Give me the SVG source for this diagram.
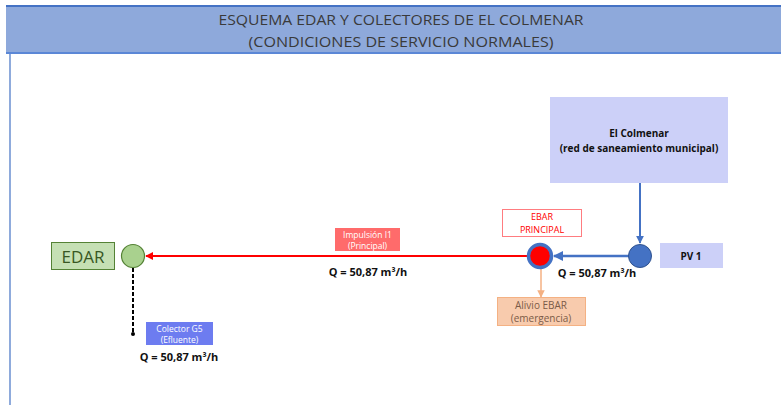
<svg xmlns="http://www.w3.org/2000/svg" width="781" height="405" viewBox="0 0 781 405">
<defs>
<style>
text{font-family:"Open Sans","Liberation Sans",sans-serif;}
.title{font-size:15px;fill:#3A3A3A;text-anchor:middle;}
.b{font-weight:bold;fill:#111111;text-anchor:middle;}
.q{font-size:11px;font-weight:bold;fill:#111111;text-anchor:middle;}
.sm{font-size:8.5px;fill:#ffffff;text-anchor:middle;}
</style>
<marker id="ab" viewBox="0 0 10 10" refX="9" refY="5" markerWidth="4" markerHeight="4" orient="auto"><path d="M0,0 L10,5 L0,10 Z" fill="#4472C4"/></marker>
<marker id="ar" viewBox="0 0 10 10" refX="9" refY="5" markerWidth="4" markerHeight="4" orient="auto"><path d="M0,0 L10,5 L0,10 Z" fill="#FF0000"/></marker>
<marker id="ao" viewBox="0 0 10 10" refX="9" refY="5" markerWidth="5" markerHeight="5" orient="auto"><path d="M0,0 L10,5 L0,10 Z" fill="#F4B183"/></marker>
</defs>
<rect x="0" y="0" width="781" height="405" fill="#ffffff"/>
<g id="header">
<rect x="6" y="5" width="775" height="49" fill="#8EA9DB"/>
<line x1="6" y1="6" x2="781" y2="6" stroke="#4472C4" stroke-width="2"/>
<line x1="6" y1="53" x2="781" y2="53" stroke="#5B87D6" stroke-width="2"/>
<line x1="10" y1="54" x2="10" y2="405" stroke="#4472C4" stroke-width="1.2"/>
<text class="title" x="401" y="25" textLength="365" lengthAdjust="spacingAndGlyphs">ESQUEMA EDAR Y COLECTORES DE EL COLMENAR</text>
<text class="title" x="401" y="47" textLength="305" lengthAdjust="spacingAndGlyphs">(CONDICIONES DE SERVICIO NORMALES)</text>
</g>
<g id="connectors">
<line x1="640" y1="183" x2="640" y2="243" stroke="#4472C4" stroke-width="2" marker-end="url(#ab)"/>
<line x1="629" y1="256" x2="554" y2="256" stroke="#4472C4" stroke-width="2.5" marker-end="url(#ab)"/>
<line x1="527" y1="256" x2="146" y2="256" stroke="#FF0000" stroke-width="2" marker-end="url(#ar)"/>
<line x1="541" y1="269" x2="541" y2="297" stroke="#F4B183" stroke-width="1.5" marker-end="url(#ao)"/>
<line x1="133" y1="268" x2="133" y2="333" stroke="#000000" stroke-width="2" stroke-dasharray="4,2"/>
<circle cx="133" cy="334" r="2" fill="#000000"/>
</g>
<g id="colmenar">
<rect x="550" y="97" width="178" height="86" fill="#CCD0F8"/>
<text class="b" x="639" y="137" font-size="10">El Colmenar</text>
<text class="b" x="639" y="152" font-size="10">(red de saneamiento municipal)</text>
</g>
<g id="pv1">
<circle cx="640" cy="256" r="11.5" fill="#4472C4" stroke="#2F528F" stroke-width="1"/>
<rect x="660" y="243" width="63" height="25" fill="#CCD0F8"/>
<text class="b" x="691" y="259.5" font-size="10">PV 1</text>
</g>
<g id="ebar">
<circle cx="540" cy="256" r="11.5" fill="#FF0000" stroke="#4472C4" stroke-width="3.5"/>
<rect x="502.5" y="209.5" width="79" height="27" fill="#ffffff" stroke="#FF7C80" stroke-width="1"/>
<text x="542" y="220" font-size="9" fill="#FF0000" text-anchor="middle">EBAR</text>
<text x="542" y="233" font-size="9" fill="#FF0000" text-anchor="middle">PRINCIPAL</text>
<text class="q" x="597" y="277">Q = 50,87 m³/h</text>
</g>
<g id="alivio">
<rect x="497.5" y="297.5" width="88" height="28" fill="#F8CBAD" stroke="#F4B183" stroke-width="1"/>
<text x="541" y="309" font-size="10" fill="#7B5B48" text-anchor="middle">Alivio EBAR</text>
<text x="541" y="322" font-size="10" fill="#7B5B48" text-anchor="middle">(emergencia)</text>
</g>
<g id="impulsion">
<rect x="335" y="228" width="65" height="23" fill="#FF6B6B"/>
<text class="sm" x="367.5" y="237.5">Impulsión I1</text>
<text class="sm" x="367.5" y="248.5">(Principal)</text>
<text class="q" x="368" y="276">Q = 50,87 m³/h</text>
</g>
<g id="edar">
<rect x="51.5" y="242.5" width="63" height="27" fill="#C5E0B4" stroke="#548235" stroke-width="1"/>
<text x="83" y="262.5" font-size="17" fill="#385723" text-anchor="middle">EDAR</text>
<circle cx="133" cy="256" r="11.5" fill="#A9D18E" stroke="#548235" stroke-width="1.2"/>
</g>
<g id="colector">
<rect x="146" y="322" width="67" height="23" fill="#6D7CF0"/>
<text class="sm" x="179.5" y="331.5">Colector  G5</text>
<text class="sm" x="179.5" y="342.5">(Efluente)</text>
<text class="q" x="179" y="361">Q = 50,87 m³/h</text>
</g>
</svg>
